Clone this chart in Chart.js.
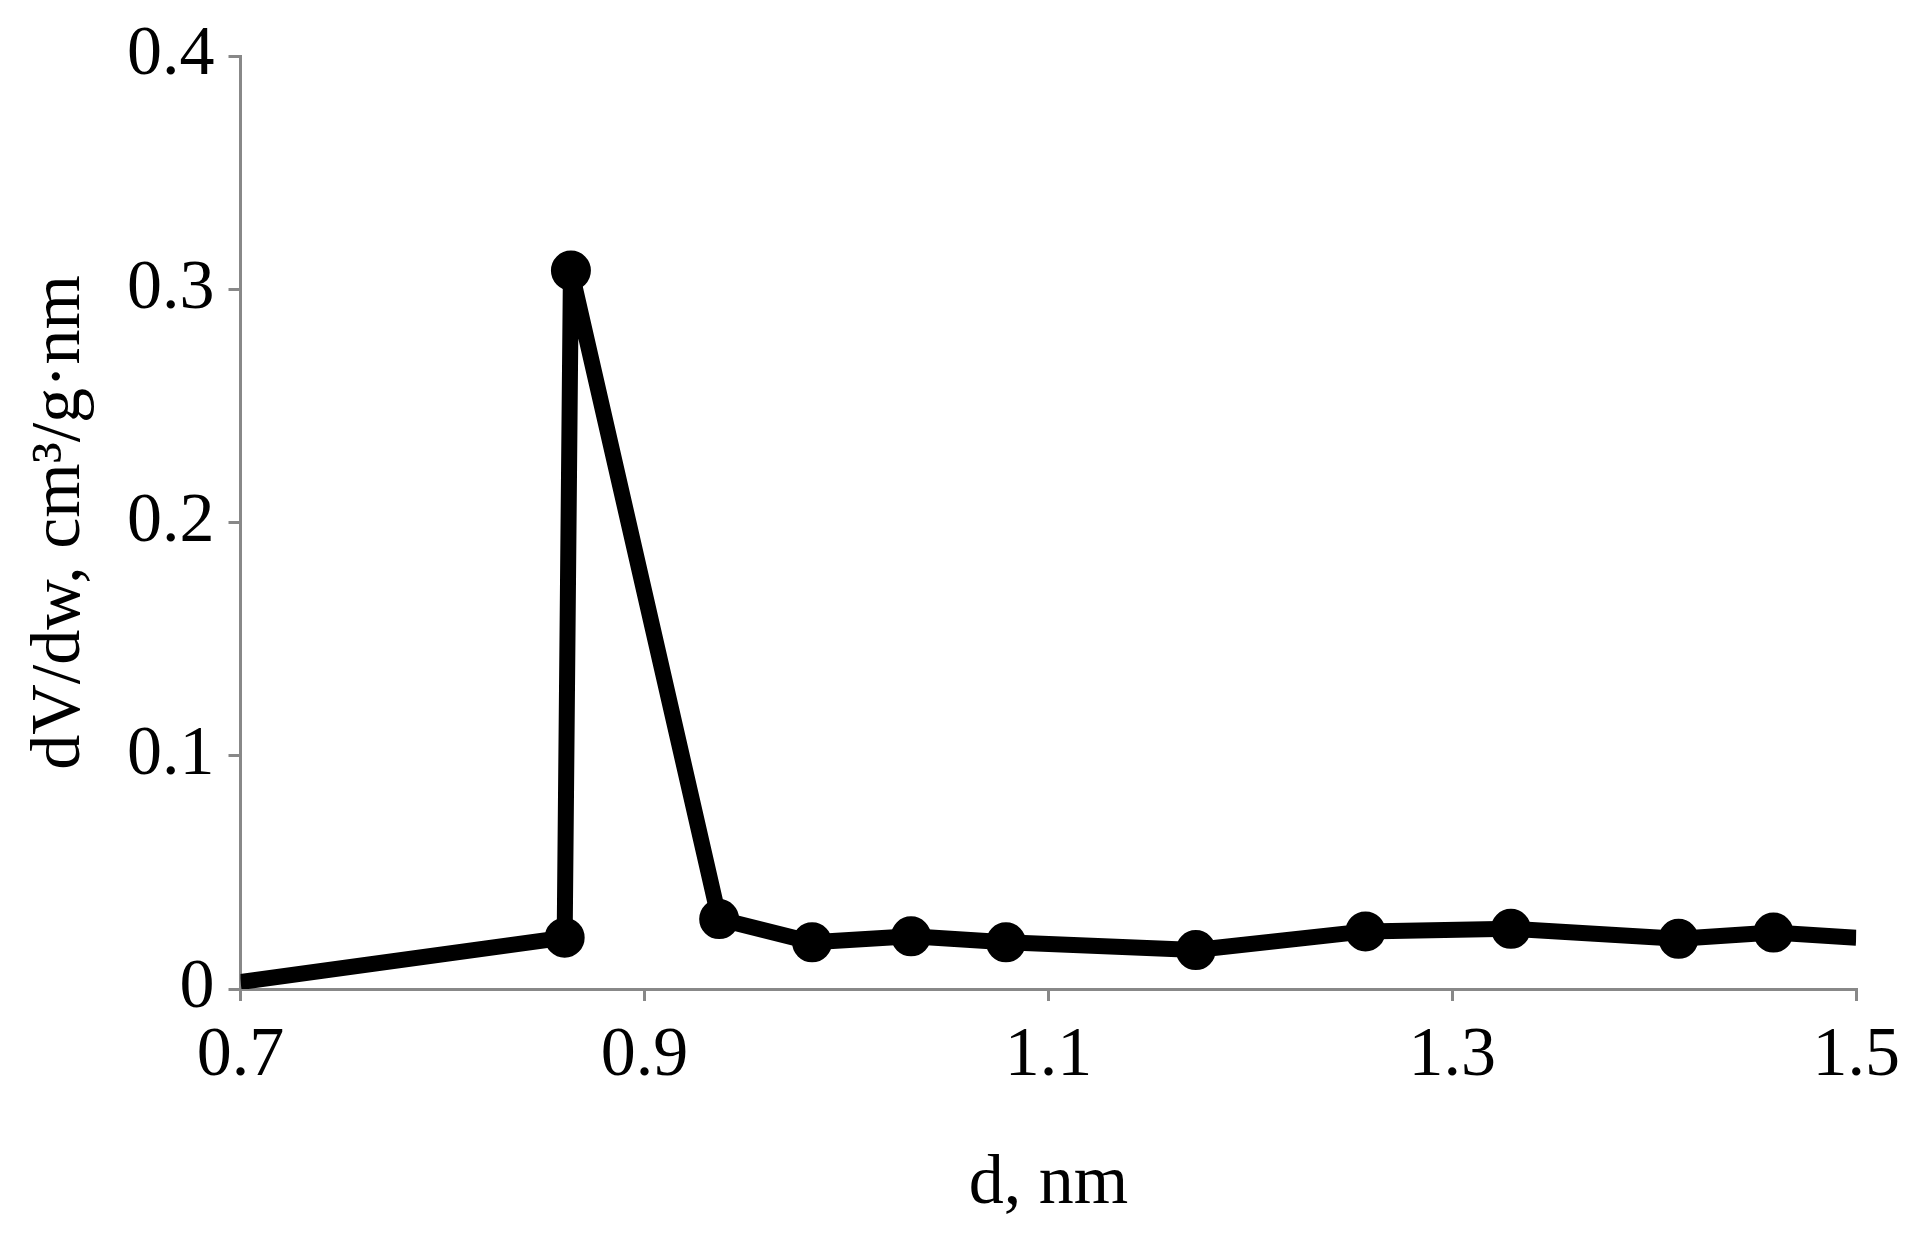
<!DOCTYPE html>
<html>
<head>
<meta charset="utf-8">
<script src="https://cdn.jsdelivr.net/npm/chart.js@4"></script>
<style>
  body { margin: 0; background: #fff; }
  canvas { display: block; }
</style>
</head>
<body>
<canvas id="chart" width="1914" height="1236"></canvas>
<script>
// pore width d (nm) and dV/dw values
const diameters = [0.7, 0.8605, 0.8636, 0.937, 0.983, 1.032, 1.079, 1.173, 1.257, 1.329, 1.412, 1.459, 1.5];
const volumes = [0.003, 0.022, 0.308, 0.030, 0.020, 0.0226, 0.020, 0.0167, 0.0247, 0.0258, 0.0215, 0.0242, 0.022];
const xTicks = [0.7, 0.9, 1.1, 1.3, 1.5];
const yTicks = [0, 0.1, 0.2, 0.3, 0.4];

const points = diameters.map((d, i) => ({ x: d, y: volumes[i] }));
const radii = diameters.map((d, i) => (i === 0 || i === diameters.length - 1) ? 0 : 12);

const font = { family: '"Liberation Serif", "Times New Roman", serif', size: 70 };
const axisGrid = { display: true, drawOnChartArea: false, color: '#888', lineWidth: 3, tickLength: 12 };

const ctx = document.getElementById('chart').getContext('2d');
const chart = new Chart(ctx, {
  type: 'line',
  data: {
    datasets: [{
      data: points,
      borderColor: '#000',
      backgroundColor: '#000',
      borderWidth: 16,
      borderJoinStyle: 'round',
      pointRadius: radii,
      pointHoverRadius: radii,
      tension: 0
    }]
  },
  options: {
    responsive: false,
    animation: false,
    layout: { padding: { top: 40, right: 50, left: 15, bottom: 5 } },
    plugins: { legend: { display: false }, tooltip: { enabled: false } },
    scales: {
      x: {
        type: 'linear',
        min: 0.7, max: 1.5,
        afterBuildTicks: axis => { axis.ticks = xTicks.map(v => ({ value: v })); },
        grid: axisGrid,
        border: { color: '#888', width: 3 },
        ticks: { color: '#000', font: font, padding: 14, callback: v => v.toFixed(1) },
        title: { display: true, text: 'd, nm', color: '#000', font: font, padding: { top: 30 } }
      },
      y: {
        min: 0, max: 0.4,
        afterBuildTicks: axis => { axis.ticks = yTicks.map(v => ({ value: v })); },
        grid: axisGrid,
        border: { color: '#888', width: 3 },
        ticks: { color: '#000', font: font, padding: 14, callback: v => v === 0 ? '0' : v.toFixed(1) },
        title: { display: true, text: 'dV/dw, cm³/g·nm', color: '#000', font: font, padding: { bottom: 10 } }
      }
    }
  }
});
</script>
</body>
</html>
